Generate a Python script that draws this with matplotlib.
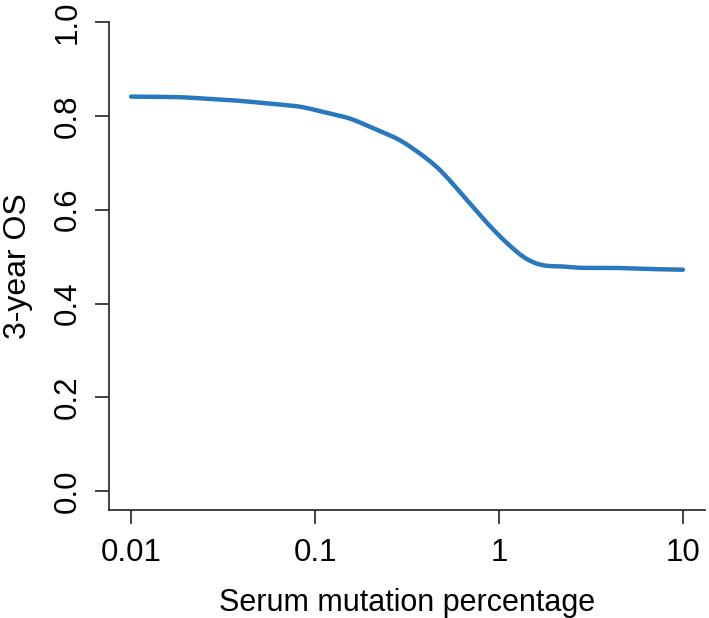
import numpy as np
import matplotlib
matplotlib.use("Agg")
import matplotlib.pyplot as plt
from matplotlib.ticker import FixedLocator, NullLocator

plt.rcParams['font.family'] = ['Liberation Sans', 'DejaVu Sans']

# curve (serum mutation %, 3-year OS)
mut_pct = [0.01, 0.0185, 0.0393, 0.0832, 0.155, 0.29, 0.372, 0.44, 0.499,
           0.668, 0.895, 1.148, 1.415, 1.74, 2.33, 2.6, 4.36, 6.62, 10.0]
os_3yr = [0.841, 0.840, 0.832, 0.820, 0.795, 0.749, 0.720, 0.698, 0.678,
          0.621, 0.564, 0.522, 0.493, 0.480, 0.479, 0.476, 0.476, 0.4735, 0.472]
x_ticks = [0.01, 0.1, 1, 10]
x_tick_labels = ['0.01', '0.1', '1', '10']
y_ticks = [0.0, 0.2, 0.4, 0.6, 0.8, 1.0]
y_tick_labels = ['0.0', '0.2', '0.4', '0.6', '0.8', '1.0']

fig = plt.figure(figsize=(7.09, 6.18), dpi=100)
ax = fig.add_axes([109/709, 1 - 510/618, (705-109)/709, (510-22)/618])

# smooth in log space so the line looks like the original
lx = np.log10(mut_pct)
fine = np.linspace(lx[0], lx[-1], 400)
fy = np.interp(fine, lx, os_3yr)
k = 6
fy_s = np.convolve(np.pad(fy, k, mode='edge'), np.ones(2*k+1)/(2*k+1), mode='same')[k:-k]
ax.plot(10**fine, fy_s, color='#2878bd', lw=3.2, solid_capstyle='round')

ax.set_xscale('log')
ax.set_xlim(10**-2.12, 10**1.12)
ax.set_ylim(-0.04, 1.0)
ax.xaxis.set_major_locator(FixedLocator(x_ticks))
ax.xaxis.set_minor_locator(NullLocator())
ax.set_xticklabels(x_tick_labels)
ax.set_yticks(y_ticks)
ax.set_yticklabels(y_tick_labels, rotation=90, va='center')

for s in ['top', 'right']:
    ax.spines[s].set_visible(False)
for s in ['left', 'bottom']:
    ax.spines[s].set_color('#333333')
    ax.spines[s].set_linewidth(1.3)
ax.tick_params(axis='both', length=10, width=1.3, color='#333333', labelsize=22.5)
ax.tick_params(axis='x', pad=10)
ax.tick_params(axis='y', pad=9)

ax.set_xlabel('Serum mutation percentage', fontsize=22)
ax.set_ylabel('3-year OS', fontsize=23)
ax.xaxis.set_label_coords(0.5, -0.16)
ax.yaxis.set_label_coords(-0.127, 0.5)

fig.savefig('out.png', dpi=100)
